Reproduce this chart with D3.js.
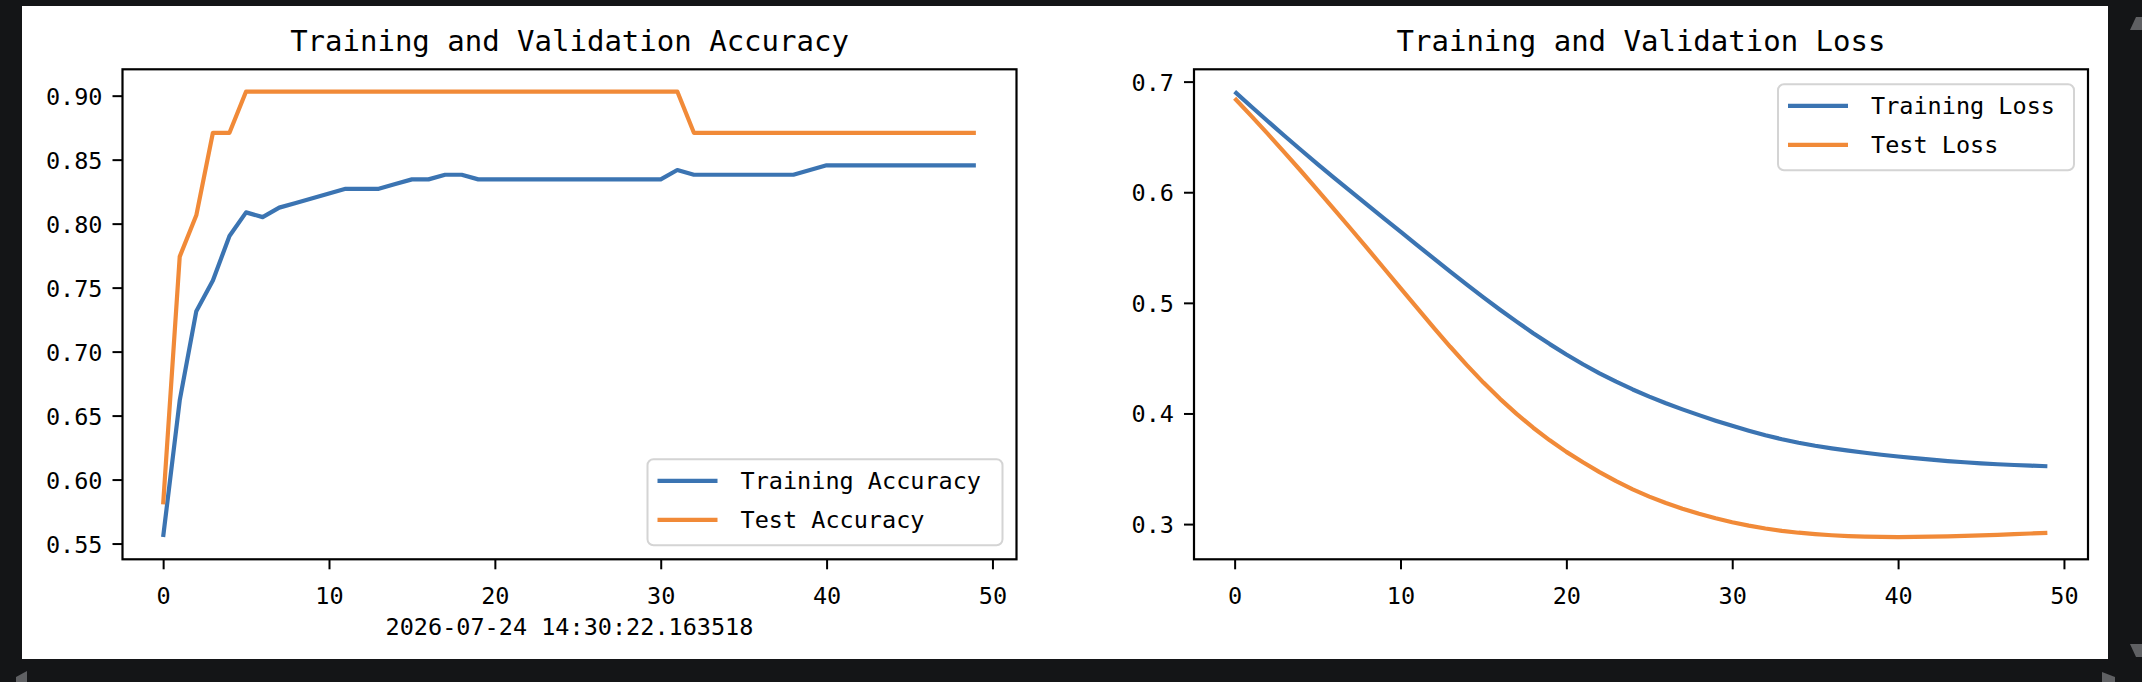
<!DOCTYPE html>
<html>
<head>
<meta charset="utf-8">
<script src="https://cdn.jsdelivr.net/npm/d3@7"></script>
<style>
  html, body { margin: 0; padding: 0; background: #141517; }
  svg { display: block; }
</style>
</head>
<body>
<svg id="chart" width="2142" height="682"></svg>
<script>
// ---------------- data ----------------
const trainAcc = [0.5551, 0.6618, 0.7316, 0.7555, 0.7904, 0.8088, 0.8051, 0.8125, 0.8162, 0.8199,
                  0.8235, 0.8272, 0.8272, 0.8272, 0.8309, 0.8346, 0.8346, 0.8382, 0.8382, 0.8346,
                  0.8346, 0.8346, 0.8346, 0.8346, 0.8346, 0.8346, 0.8346, 0.8346, 0.8346, 0.8346,
                  0.8346, 0.8419, 0.8382, 0.8382, 0.8382, 0.8382, 0.8382, 0.8382, 0.8382, 0.8419,
                  0.8456, 0.8456, 0.8456, 0.8456, 0.8456, 0.8456, 0.8456, 0.8456, 0.8456, 0.8456];
const testAcc  = [0.5806, 0.7742, 0.8065, 0.8710, 0.8710, 0.9032, 0.9032, 0.9032, 0.9032, 0.9032,
                  0.9032, 0.9032, 0.9032, 0.9032, 0.9032, 0.9032, 0.9032, 0.9032, 0.9032, 0.9032,
                  0.9032, 0.9032, 0.9032, 0.9032, 0.9032, 0.9032, 0.9032, 0.9032, 0.9032, 0.9032,
                  0.9032, 0.9032, 0.8710, 0.8710, 0.8710, 0.8710, 0.8710, 0.8710, 0.8710, 0.8710,
                  0.8710, 0.8710, 0.8710, 0.8710, 0.8710, 0.8710, 0.8710, 0.8710, 0.8710, 0.8710];
const trainLoss = [0.6910, 0.6775, 0.6642, 0.6511, 0.6382, 0.6255, 0.6130, 0.6007, 0.5885, 0.5764,
                   0.5643, 0.5522, 0.5402, 0.5283, 0.5165, 0.5049, 0.4938, 0.4830, 0.4726, 0.4627,
                   0.4533, 0.4445, 0.4363, 0.4287, 0.4217, 0.4152, 0.4092, 0.4037, 0.3985, 0.3935,
                   0.3888, 0.3844, 0.3803, 0.3767, 0.3735, 0.3708, 0.3685, 0.3664, 0.3645, 0.3627,
                   0.3611, 0.3596, 0.3582, 0.3570, 0.3559, 0.3549, 0.3541, 0.3534, 0.3528, 0.3523];
const testLoss  = [0.6850, 0.6690, 0.6527, 0.6361, 0.6192, 0.6020, 0.5846, 0.5670, 0.5492, 0.5313,
                   0.5133, 0.4954, 0.4777, 0.4603, 0.4437, 0.4279, 0.4132, 0.3996, 0.3871, 0.3757,
                   0.3653, 0.3559, 0.3470, 0.3388, 0.3314, 0.3248, 0.3190, 0.3139, 0.3094, 0.3053,
                   0.3017, 0.2986, 0.2960, 0.2939, 0.2922, 0.2909, 0.2899, 0.2892, 0.2887, 0.2884,
                   0.2883, 0.2884, 0.2886, 0.2889, 0.2893, 0.2898, 0.2903, 0.2909, 0.2915, 0.2921];
const epochTicks = [0, 10, 20, 30, 40, 50];
const accTicks   = [0.55, 0.60, 0.65, 0.70, 0.75, 0.80, 0.85, 0.90];
const lossTicks  = [0.3, 0.4, 0.5, 0.6, 0.7];
const titles     = ["Training and Validation Accuracy", "Training and Validation Loss"];
const accLabels  = ["Training Accuracy", "Test Accuracy"];
const lossLabels = ["Training Loss", "Test Loss"];
const timestamp  = "2026-07-24 14:30:22.163518";

// ---------------- style ----------------
const FONT = "'DejaVu Sans Mono', monospace";
const C_TRAIN = "#3b74b2";
const C_TEST  = "#f18a38";

const svg = d3.select("#chart");
// white figure panel
svg.append("rect").attr("x", 22).attr("y", 6).attr("width", 2086).attr("height", 653).attr("fill", "#ffffff");

// scroll-arrow chrome
const chrome = svg.append("g").attr("fill", "#5f6063");
chrome.append("path").attr("d", "M16,677 L27,671 L27,682 L16,682 Z");
chrome.append("path").attr("d", "M2130,30 L2136,17 L2142,17 L2142,30 Z");
chrome.append("path").attr("d", "M2130,644 L2142,644 L2142,657 L2136,657 Z");
chrome.append("path").attr("d", "M2102,672 L2115,677 L2115,682 L2102,682 Z");

function padDomain(vals) {
  const lo = d3.min(vals), hi = d3.max(vals), r = hi - lo;
  return [lo - 0.05 * r, hi + 0.05 * r];
}

function panel(opt) {
  const { left, top, width, height, series, yTicks, yFmt, title, labels, legendPos } = opt;
  const n = series[0].length;
  const x = d3.scaleLinear().domain([-(n - 1) * 0.05, (n - 1) * 1.05]).range([0, width]);
  const y = d3.scaleLinear().domain(padDomain(series.flat())).range([height, 0]);
  const g = svg.append("g").attr("transform", `translate(${left},${top})`);

  // lines
  const line = d3.line().x((d, i) => x(i)).y(d => y(d));
  const colors = [C_TRAIN, C_TEST];
  series.forEach((s, k) => {
    g.append("path").datum(s).attr("d", line)
      .attr("fill", "none").attr("stroke", colors[k]).attr("stroke-width", 4.2)
      .attr("stroke-linejoin", "round").attr("stroke-linecap", "butt");
  });

  // axes
  const xAxis = g.append("g").attr("transform", `translate(0,${height})`)
    .call(d3.axisBottom(x).tickValues(epochTicks).tickFormat(d3.format("d")).tickSize(10).tickPadding(12));
  const yAxis = g.append("g")
    .call(d3.axisLeft(y).tickValues(yTicks).tickFormat(d3.format(yFmt)).tickSize(10).tickPadding(10));
  [xAxis, yAxis].forEach(a => {
    a.select(".domain").remove();
    a.selectAll(".tick line").attr("stroke", "#000").attr("stroke-width", 2);
    a.selectAll(".tick text").attr("fill", "#000").style("font-family", FONT).style("font-size", "23.5px");
  });
  yAxis.selectAll(".tick text").attr("dy", "0.36em");
  xAxis.selectAll(".tick text").attr("dy", "0.95em");

  // spines
  g.append("rect").attr("x", 0).attr("y", 0).attr("width", width).attr("height", height)
    .attr("fill", "none").attr("stroke", "#000").attr("stroke-width", 2.2);

  // title
  g.append("text").attr("x", width / 2).attr("y", -18).attr("text-anchor", "middle")
    .style("font-family", FONT).style("font-size", "29px").attr("fill", "#000").text(title);

  // legend
  const lg = g.append("g").attr("transform", `translate(${legendPos.x},${legendPos.y})`);
  lg.append("rect").attr("x", 0).attr("y", 0).attr("width", legendPos.w).attr("height", 86)
    .attr("rx", 6).attr("fill", "rgba(255,255,255,0.85)").attr("stroke", "#d4d4d4").attr("stroke-width", 2);
  labels.forEach((lab, k) => {
    const cy = 21.5 + k * 39;
    lg.append("line").attr("x1", 10).attr("x2", 70).attr("y1", cy).attr("y2", cy)
      .attr("stroke", colors[k]).attr("stroke-width", 4.2);
    lg.append("text").attr("x", 93).attr("y", cy).attr("dy", "0.36em")
      .style("font-family", FONT).style("font-size", "23.5px").attr("fill", "#000").text(lab);
  });
  return { g, x, y, width, height };
}

const W = 894, H = 490, TOP = 69.3;
const p1 = panel({
  left: 122.5, top: TOP, width: W, height: H,
  series: [trainAcc, testAcc], yTicks: accTicks, yFmt: ".2f",
  title: titles[0], labels: accLabels,
  legendPos: { x: 525, y: 390, w: 355 }
});
const p2 = panel({
  left: 1194, top: TOP, width: W, height: H,
  series: [trainLoss, testLoss], yTicks: lossTicks, yFmt: ".1f",
  title: titles[1], labels: lossLabels,
  legendPos: { x: 584, y: 15, w: 296 }
});

// timestamp label under the first panel
p1.g.append("text").attr("x", W / 2).attr("y", 635 - TOP).attr("text-anchor", "middle")
  .style("font-family", FONT).style("font-size", "23.5px").attr("fill", "#000").text(timestamp);
</script>
</body>
</html>
